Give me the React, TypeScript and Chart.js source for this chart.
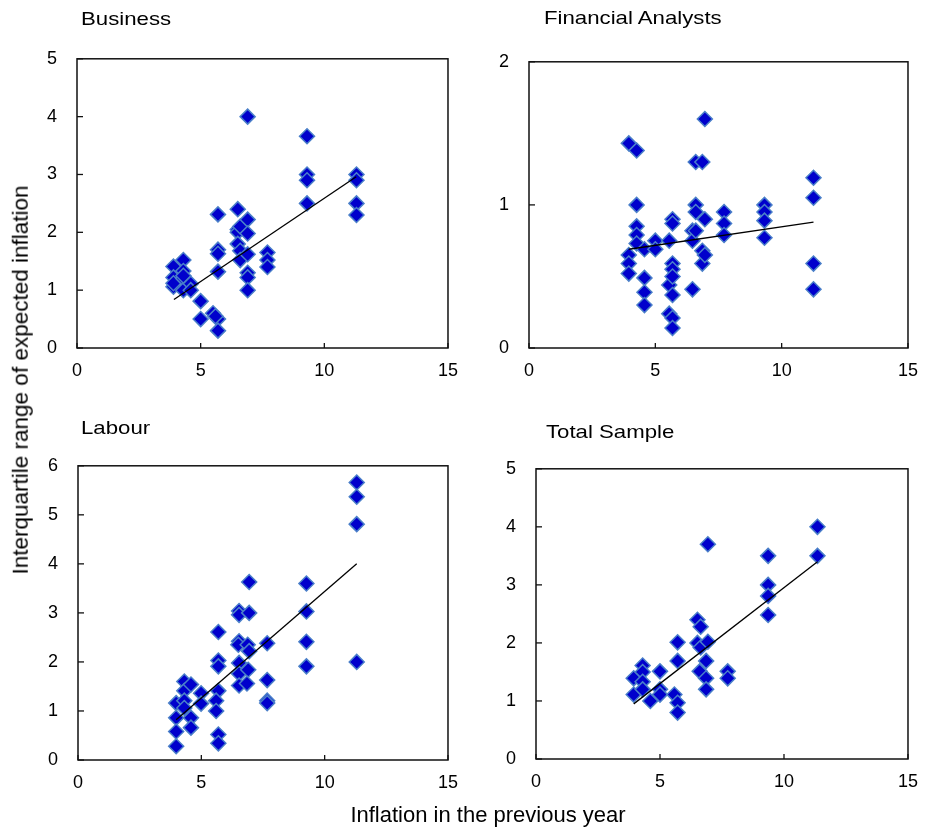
import React, { useEffect, useRef } from "react";
import { Chart, registerables } from "chart.js";

Chart.register(...registerables);

// ---- Data ----
const businessX = [3.9, 3.9, 3.9, 3.9, 4.3, 4.3, 4.3, 4.3, 4.3, 4.6, 4.6, 5.0, 5.0, 5.7, 5.7, 5.7, 5.7, 5.5, 5.7, 5.7, 5.6, 6.5, 6.5, 6.5, 6.5, 6.6, 6.6, 6.6, 6.9, 6.9, 6.9, 6.9, 6.9, 6.9, 6.9, 7.7, 7.7, 7.7, 9.3, 9.3, 9.3, 9.3, 11.3, 11.3, 11.3, 11.3];
const businessY = [1.41, 1.22, 1.06, 1.12, 1.52, 1.33, 1.2, 1.0, 1.25, 1.11, 1.0, 0.81, 0.5, 2.31, 1.7, 1.63, 1.32, 0.6, 0.5, 0.3, 0.55, 2.4, 2.05, 2.0, 1.8, 1.68, 1.52, 2.1, 4.0, 2.22, 1.98, 1.62, 1.3, 1.22, 1.0, 1.65, 1.52, 1.4, 3.66, 3.0, 2.9, 2.5, 3.0, 2.9, 2.5, 2.3];
const businessFitX = [3.92, 11.29];
const businessFitY = [0.84, 2.96];

const analystsX = [3.95, 3.95, 3.95, 3.95, 4.26, 4.26, 4.26, 4.26, 4.26, 4.57, 4.57, 4.57, 4.57, 5.0, 5.0, 5.55, 5.55, 5.55, 5.68, 5.68, 5.68, 5.68, 5.68, 5.68, 5.68, 5.68, 6.47, 6.47, 6.47, 6.6, 6.6, 6.6, 6.6, 6.86, 6.86, 6.86, 6.96, 6.96, 6.96, 7.72, 7.72, 7.72, 9.32, 9.32, 9.32, 9.32, 11.26, 11.26, 11.26, 11.26];
const analystsY = [1.43, 0.65, 0.59, 0.52, 1.38, 1.0, 0.85, 0.79, 0.73, 0.69, 0.49, 0.39, 0.3, 0.75, 0.69, 0.75, 0.44, 0.24, 0.9, 0.87, 0.59, 0.55, 0.5, 0.37, 0.21, 0.14, 0.41, 0.82, 0.75, 1.3, 1.0, 0.95, 0.82, 1.3, 0.68, 0.59, 1.6, 0.9, 0.65, 0.95, 0.87, 0.79, 1.0, 0.95, 0.89, 0.77, 1.19, 1.05, 0.59, 0.41];
const analystsFitX = [3.95, 11.26];
const analystsFitY = [0.69, 0.88];

const labourX = [3.98, 3.98, 3.98, 3.98, 4.31, 4.31, 4.31, 4.31, 4.58, 4.58, 4.58, 4.99, 4.99, 5.69, 5.69, 5.69, 5.69, 5.6, 5.6, 5.69, 5.69, 6.53, 6.53, 6.53, 6.5, 6.53, 6.53, 6.53, 6.94, 6.94, 6.88, 6.94, 6.9, 6.85, 7.67, 7.67, 7.67, 7.67, 9.26, 9.26, 9.26, 9.26, 11.3, 11.3, 11.3, 11.3];
const labourY = [1.16, 0.86, 0.58, 0.28, 1.6, 1.41, 1.21, 1.06, 1.54, 0.86, 0.66, 1.36, 1.15, 2.61, 2.03, 1.91, 1.41, 1.21, 1.0, 0.52, 0.34, 3.04, 2.96, 2.42, 2.35, 1.98, 1.76, 1.52, 3.63, 3.0, 2.35, 2.22, 1.84, 1.56, 2.38, 1.63, 1.21, 1.16, 3.6, 3.03, 2.41, 1.91, 5.66, 5.37, 4.81, 2.0];
const labourFitX = [3.98, 11.3];
const labourFitY = [0.82, 4.0];

const totalX = [3.94, 3.94, 4.3, 4.3, 4.3, 4.3, 4.61, 5.0, 5.0, 5.0, 5.58, 5.71, 5.71, 5.71, 5.71, 6.51, 6.51, 6.64, 6.64, 6.6, 6.93, 6.93, 6.86, 6.86, 6.86, 7.73, 7.73, 9.36, 9.36, 9.36, 9.36, 11.35, 11.35];
const totalY = [1.39, 1.11, 1.61, 1.5, 1.33, 1.2, 1.0, 1.51, 1.2, 1.11, 1.11, 2.01, 1.69, 0.97, 0.8, 2.4, 2.0, 2.28, 1.92, 1.51, 3.7, 2.02, 1.69, 1.39, 1.2, 1.51, 1.39, 3.5, 3.0, 2.81, 2.48, 4.0, 3.5];
const totalFitX = [3.94, 11.35];
const totalFitY = [0.95, 3.4];

const xTicks = [0, 5, 10, 15];

const FONT = "'Liberation Sans', Arial, Helvetica, sans-serif";

const framePlugin = {
  id: "frameTicks",
  afterDraw(chart: any) {
    const { ctx, chartArea } = chart;
    const { left, right, top, bottom } = chartArea;
    const xs = chart.scales.x;
    const ys = chart.scales.y;
    ctx.save();
    ctx.strokeStyle = "#111";
    ctx.lineWidth = 1.5;
    ctx.strokeRect(left, top, right - left, bottom - top);
    ctx.lineWidth = 1.3;
    xs.ticks.forEach((_t: any, i: number) => {
      const px = xs.getPixelForTick(i);
      ctx.beginPath();
      ctx.moveTo(px, bottom);
      ctx.lineTo(px, bottom - 5);
      ctx.stroke();
    });
    ys.ticks.forEach((_t: any, i: number) => {
      const py = ys.getPixelForTick(i);
      ctx.beginPath();
      ctx.moveTo(left, py);
      ctx.lineTo(left + 6, py);
      ctx.stroke();
    });
    ctx.restore();
  },
};

type PanelProps = {
  xs: number[];
  ys: number[];
  fitX: number[];
  fitY: number[];
  yMax: number;
  left: number;
  top: number;
  width: number;
  height: number;
  padRight: number;
};

function Panel(p: PanelProps) {
  const ref = useRef<HTMLCanvasElement | null>(null);
  useEffect(() => {
    if (!ref.current) return;
    const pts = p.xs.map((x, i) => ({ x, y: p.ys[i] }));
    const fit = p.fitX.map((x, i) => ({ x, y: p.fitY[i] }));
    const chart = new Chart(ref.current, {
      type: "scatter",
      data: {
        datasets: [
          {
            data: fit,
            showLine: true,
            borderColor: "#000",
            borderWidth: 1.3,
            pointRadius: 0,
            fill: false,
          } as any,
          {
            data: pts,
            pointStyle: "rectRot",
            pointRadius: 7.5,
            backgroundColor: "#0000CC",
            borderColor: "#4A7FC9",
            borderWidth: 1.5,
          } as any,
        ],
      },
      options: {
        animation: false,
        responsive: false,
        devicePixelRatio: 1,
        layout: { padding: { top: 12, right: p.padRight, left: 0, bottom: 0 } },
        plugins: { legend: { display: false }, tooltip: { enabled: false } },
        scales: {
          x: {
            type: "linear",
            min: 0,
            max: 15,
            afterBuildTicks: (s: any) => {
              s.ticks = xTicks.map((v) => ({ value: v }));
            },
            ticks: { padding: 12, color: "#000", font: { family: FONT, size: 18 } },
            grid: { display: false, drawTicks: false },
            border: { display: false },
            afterFit: (s: any) => {
              s.height = 47;
            },
          },
          y: {
            type: "linear",
            min: 0,
            max: p.yMax,
            ticks: { stepSize: 1, padding: 20, color: "#000", font: { family: FONT, size: 18 } },
            grid: { display: false, drawTicks: false },
            border: { display: false },
            afterFit: (s: any) => {
              s.width = 47;
            },
          },
        },
      },
      plugins: [framePlugin],
    });
    return () => chart.destroy();
  }, []);
  return (
    <canvas
      ref={ref}
      width={p.width}
      height={p.height}
      style={{ position: "absolute", left: p.left, top: p.top, width: p.width, height: p.height }}
    />
  );
}

const titleStyle = (left: number, top: number): React.CSSProperties => ({
  position: "absolute",
  left,
  top,
  fontFamily: FONT,
  fontSize: 18.5,
  lineHeight: 1,
  whiteSpace: "nowrap",
  transform: "scaleX(1.2)",
  transformOrigin: "left top",
  color: "#000",
});

export default function App() {
  return (
    <div style={{ position: "absolute", left: 0, top: 0, width: 933, height: 830, background: "#fff", overflow: "hidden" }}>
      <Panel xs={businessX} ys={businessY} fitX={businessFitX} fitY={businessFitY} yMax={5} left={30} top={28} width={440} height={367} padRight={19} />
      <Panel xs={analystsX} ys={analystsY} fitX={analystsFitX} fitY={analystsFitY} yMax={2} left={482} top={31} width={448} height={364} padRight={21} />
      <Panel xs={labourX} ys={labourY} fitX={labourFitX} fitY={labourFitY} yMax={6} left={31} top={435} width={439} height={372} padRight={22} />
      <Panel xs={totalX} ys={totalY} fitX={totalFitX} fitY={totalFitY} yMax={5} left={489} top={438} width={441} height={368} padRight={15} />

      <div style={titleStyle(81, 10)}>Business</div>
      <div style={titleStyle(544, 8.5)}>Financial Analysts</div>
      <div style={titleStyle(81, 419)}>Labour</div>
      <div style={titleStyle(546, 423)}>Total Sample</div>

      <div
        style={{
          position: "absolute",
          left: 21,
          top: 380,
          transform: "translate(-50%, -50%) rotate(-90deg)",
          fontFamily: FONT,
          fontSize: 22.5,
          lineHeight: 1,
          whiteSpace: "nowrap",
          color: "#000",
        }}
      >
        Interquartile range of expected inflation
      </div>
      <div
        style={{
          position: "absolute",
          left: 488,
          top: 815,
          transform: "translate(-50%, -50%)",
          fontFamily: FONT,
          fontSize: 22,
          lineHeight: 1,
          whiteSpace: "nowrap",
          color: "#000",
        }}
      >
        Inflation in the previous year
      </div>
    </div>
  );
}
